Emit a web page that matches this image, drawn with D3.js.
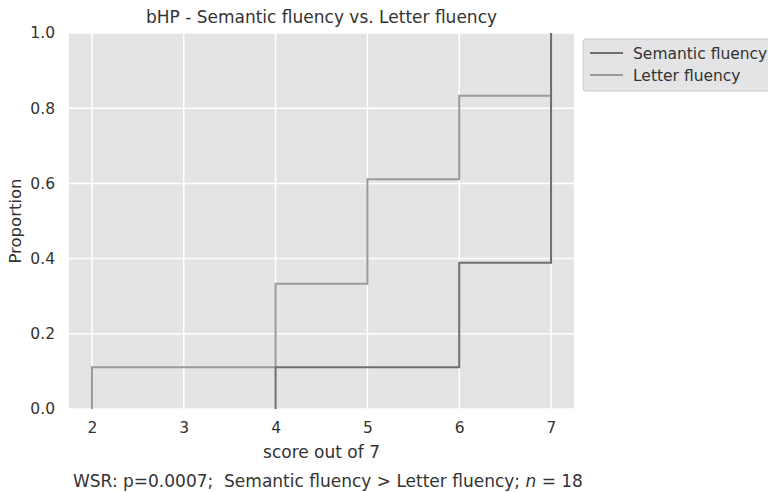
<!DOCTYPE html>
<html>
<head>
<meta charset="utf-8">
<script src="https://cdn.jsdelivr.net/npm/d3@7"></script>
<style>
  body { margin: 0; background: #fff; }
  svg text { font-family: "DejaVu Sans", sans-serif; fill: #333; }
</style>
</head>
<body>
<svg id="chart" width="768" height="492"></svg>
<script>
'use strict';

// ── Data (ECDF steps, n = 18) ──────────────────────────────────────────────
const SERIES   = ['Semantic fluency', 'Letter fluency'];
const semanticX = [4, 6, 7];
const semanticY = [0.111, 0.389, 1.0];
const letterX   = [2, 4, 5, 6, 7];
const letterY   = [0.111, 0.333, 0.611, 0.833, 1.0];
const xTicks = [2, 3, 4, 5, 6, 7];
const yTicks = [0, 0.2, 0.4, 0.6, 0.8, 1.0];

const COLORS = {
  'Semantic fluency': '#6f6f6f',
  'Letter fluency':   '#9a9a9a',
};

// ── Layout ─────────────────────────────────────────────────────────────────
const margin = { top: 33, left: 69, right: 194, bottom: 83 };
const W = 768 - margin.left - margin.right;
const H = 492 - margin.top - margin.bottom;

const svg = d3.select('#chart');
const g = svg.append('g').attr('transform', `translate(${margin.left},${margin.top})`);

const x = d3.scaleLinear().domain([1.75, 7.25]).range([0, W]);
const y = d3.scaleLinear().domain([0, 1]).range([H, 0]);

g.append('rect').attr('width', W).attr('height', H).attr('fill', '#e4e4e6');

// grid
g.append('g').selectAll('line').data(xTicks).join('line')
  .attr('x1', d => x(d)).attr('x2', d => x(d)).attr('y1', 0).attr('y2', H)
  .attr('stroke', '#fff').attr('stroke-width', 1.5);
g.append('g').selectAll('line').data(yTicks).join('line')
  .attr('y1', d => y(d)).attr('y2', d => y(d)).attr('x1', 0).attr('x2', W)
  .attr('stroke', '#fff').attr('stroke-width', 1.5);

// axes (labels only, no spines)
const xAxis = g.append('g').attr('transform', `translate(0,${H})`)
  .call(d3.axisBottom(x).tickValues(xTicks).tickSize(0).tickPadding(13).tickFormat(d3.format('d')));
const yAxis = g.append('g')
  .call(d3.axisLeft(y).tickValues(yTicks).tickSize(0).tickPadding(14).tickFormat(d3.format('.1f')));
[xAxis, yAxis].forEach(a => {
  a.select('.domain').remove();
  a.selectAll('text').attr('font-size', '15.5px').style('fill', '#333');
});

// ECDF step lines (start at first observation)
function ecdfPoints(xs, ys) {
  const pts = [];
  xs.forEach((v, i) => {
    pts.push([v, i === 0 ? 0 : ys[i - 1]]);
    pts.push([v, ys[i]]);
  });
  return pts;
}
const line = d3.line().x(d => x(d[0])).y(d => y(d[1]));

svg.append('clipPath').attr('id', 'clip')
  .append('rect').attr('width', W).attr('height', H);

const lines = g.append('g').attr('clip-path', 'url(#clip)');
lines.append('path')
  .attr('d', line(ecdfPoints(letterX, letterY)))
  .attr('fill', 'none').attr('stroke', COLORS['Letter fluency']).attr('stroke-width', 2);
lines.append('path')
  .attr('d', line(ecdfPoints(semanticX, semanticY)))
  .attr('fill', 'none').attr('stroke', COLORS['Semantic fluency']).attr('stroke-width', 2);

// titles
svg.append('text').attr('x', margin.left + W / 2).attr('y', 23)
  .attr('text-anchor', 'middle').attr('font-size', '17px')
  .text('bHP - Semantic fluency vs. Letter fluency');

svg.append('text').attr('x', margin.left + W / 2).attr('y', 458)
  .attr('text-anchor', 'middle').attr('font-size', '17px')
  .text('score out of 7');

svg.append('text').attr('transform', 'rotate(-90)')
  .attr('x', -(margin.top + H / 2)).attr('y', 21)
  .attr('text-anchor', 'middle').attr('font-size', '16.5px')
  .text('Proportion');

const foot = svg.append('text').attr('x', 73).attr('y', 487).attr('font-size', '17px')
  .attr('xml:space', 'preserve');
foot.append('tspan').text('WSR: p=0.0007;  Semantic fluency > Letter fluency; ');
foot.append('tspan').attr('font-style', 'italic').text('n');
foot.append('tspan').text(' = 18');

// legend
const lg = svg.append('g').attr('transform', 'translate(583,39)');
lg.append('rect').attr('width', 192).attr('height', 52).attr('rx', 3)
  .attr('fill', '#e4e4e6').attr('stroke', '#c8c8c8');
SERIES.forEach((s, i) => {
  const yy = 14 + i * 22;
  lg.append('line').attr('x1', 7).attr('x2', 40).attr('y1', yy).attr('y2', yy)
    .attr('stroke', COLORS[s]).attr('stroke-width', 2);
  lg.append('text').attr('x', 50).attr('y', yy + 5.5).attr('font-size', '15.5px').text(s);
});
</script>
</body>
</html>
